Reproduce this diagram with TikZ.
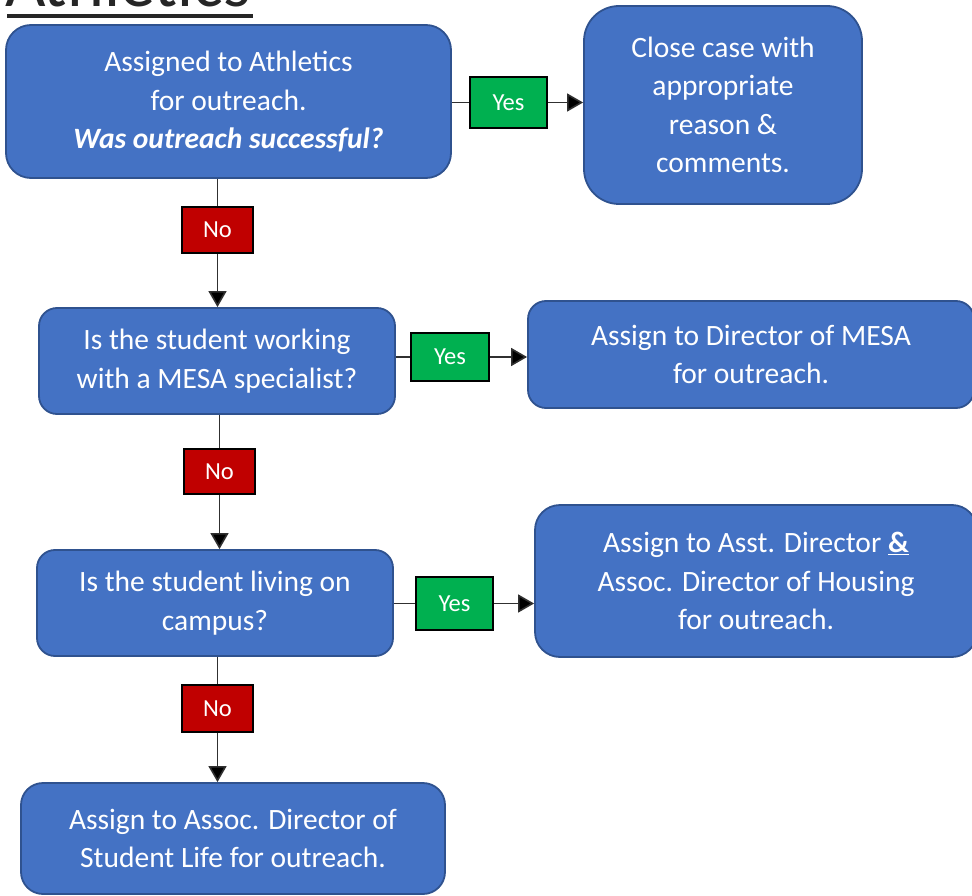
\documentclass[tikz,border=0pt]{standalone}
\usepackage{fontspec}
\setmainfont{Carlito}
\usetikzlibrary{arrows.meta}
\definecolor{boxblue}{HTML}{4472C4}
\definecolor{boxedge}{HTML}{2F528F}
\definecolor{yesgreen}{HTML}{00B050}
\definecolor{nored}{HTML}{C00000}
\definecolor{linegray}{HTML}{303030}
\tikzset{
  flowbox/.style={draw=boxedge, line width=1.8pt, fill=boxblue, text=white, align=center,
    inner sep=0pt, rounded corners=18pt,
    font=\fontsize{29.5}{38.3}\selectfont},
  yesbox/.style={draw=black, line width=2.2pt, fill=yesgreen, text=white, inner sep=0pt,
    font=\fontsize{24.5}{28}\selectfont},
  nobox/.style={draw=black, line width=2.2pt, fill=nored, text=white, inner sep=0pt,
    font=\fontsize{24.5}{28}\selectfont},
  plainline/.style={draw=linegray, line width=1.6pt},
  arrowline/.style={plainline, -{Triangle[length=16pt,width=18pt,fill=black]}},
}
\begin{document}
\begin{tikzpicture}[x=1pt,y=-1pt]
\useasboundingbox (0,0) rectangle (972,896);
% title (cut off at top)
\node[anchor=base west, inner sep=0pt, text=black!85, font=\fontsize{70}{70}\selectfont] (title) at (5,7) {Athletics};
\draw[line width=4.5pt, black!85] (7,16) -- (253,16);

\node[flowbox, rounded corners=25pt, minimum width=445pt, minimum height=153pt] (b1) at (228.5,101.5)
  {Assigned to Athletics\\ for outreach.\\ \textbf{\textit{Was outreach successful?}}};
\node[flowbox, rounded corners=35pt, minimum width=278pt, minimum height=198pt] (b2) at (723,105)
  {Close case with\\ appropriate\\ reason \&\\ comments.};
\node[yesbox, minimum width=77pt, minimum height=51pt] (y1) at (508.5,102.5) {Yes};
\node[nobox, minimum width=71pt, minimum height=46pt] (n1) at (217.5,230) {No};

\node[flowbox, minimum width=356pt, minimum height=106pt] (b3) at (217,361)
  {Is the student working\\ with a MESA specialist?};
\node[yesbox, minimum width=78pt, minimum height=48pt] (y2) at (450,357) {Yes};
\node[flowbox, minimum width=446pt, minimum height=107pt] (b4) at (751,354.5)
  {Assign to Director of MESA\\ for outreach.};
\node[nobox, minimum width=71pt, minimum height=45pt] (n2) at (219.5,471.5) {No};

\node[flowbox, minimum width=356pt, minimum height=106pt] (b5) at (215,603)
  {Is the student living on\\ campus?};
\node[yesbox, minimum width=77pt, minimum height=53pt] (y3) at (454.5,603.5) {Yes};
\node[flowbox, rounded corners=25pt, minimum width=442pt, minimum height=152pt] (b6) at (756,581)
  {Assign to Asst. Director \underline{\textbf{\&}}\\ Assoc. Director of Housing\\ for outreach.};
\node[nobox, minimum width=71pt, minimum height=47pt] (n3) at (217.5,708.5) {No};

\node[flowbox, rounded corners=22pt, minimum width=424pt, minimum height=111pt] (b7) at (233,838.5)
  {Assign to Assoc. Director of\\ Student Life for outreach.};

% connectors
\draw[plainline] (b1.east |- y1.west) -- (y1.west);
\draw[arrowline] (y1.east) -- (y1.east -| b2.west);
\draw[plainline] (n1.north |- b1.south) -- (n1.north);
\draw[arrowline] (n1.south) -- (n1.south |- b3.north);

\draw[plainline] (b3.east |- y2.west) -- (y2.west);
\draw[arrowline] (y2.east) -- (y2.east -| b4.west);
\draw[plainline] (n2.north |- b3.south) -- (n2.north);
\draw[arrowline] (n2.south) -- (n2.south |- b5.north);

\draw[plainline] (b5.east |- y3.west) -- (y3.west);
\draw[arrowline] (y3.east) -- (y3.east -| b6.west);
\draw[plainline] (n3.north |- b5.south) -- (n3.north);
\draw[arrowline] (n3.south) -- (n3.south |- b7.north);
\end{tikzpicture}
\end{document}
